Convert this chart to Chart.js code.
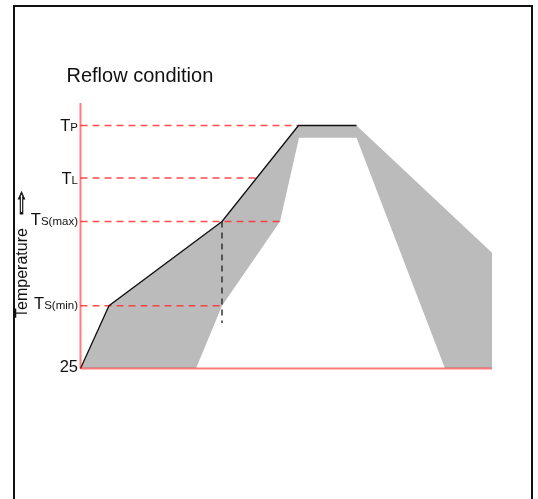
<!DOCTYPE html>
<html>
<head>
<meta charset="utf-8">
<script src="https://cdn.jsdelivr.net/npm/chart.js@4.4.1/dist/chart.umd.min.js"></script>
<style>
  html, body { margin: 0; padding: 0; background: #fff; overflow: hidden; }
  #wrap { position: relative; width: 538px; height: 499px; }
  #frame {
    position: absolute; left: 13px; top: 5px; width: 520px; height: 600px;
    border: 2px solid #111; box-sizing: border-box; pointer-events: none;
  }
</style>
</head>
<body>
<div id="wrap">
  <canvas id="chart"></canvas>
  <div id="frame"></div>
</div>
<script>
// time axis and temperature axis in relative units
const xMax = 411.5;
const yMax = 265.5;

// temperature levels: 25, Ts(min), Ts(max), TL, TP
const levelValues = [0, 62.8, 147, 190.5, 243];
const levelMain = ["25", "T", "T", "T", "T"];
const levelSub = ["", "S(min)", "S(max)", "L", "P"];
// where each dashed guide stops along the time axis
const guideEnds = [null, 141.5, 199.5, 176.2, 218];

// upper edge of the allowed band (the black profile is its first 5 points)
const outerTime = [0, 28.5, 141.5, 218, 276, 411.5, 411.5];
const outerTemp = [0, 62.8, 147, 243, 243, 115.8, 0];
// lower edge of the allowed band
const innerTime = [115.5, 141.5, 199.5, 218.5, 276, 364.5];
const innerTemp = [0, 62.8, 147, 230.8, 230.8, 0];

// soak end marker (black dashed drop)
const soakTime = 141.5;
const soakTemps = [147, 45.5];

const pts = (xs, ys) => xs.map((x, i) => ({ x: x, y: ys[i] }));
const FONT = "'Liberation Sans', Arial, sans-serif";

const guideSets = levelValues.map((v, i) => guideEnds[i] == null ? null : {
  data: [{ x: 0, y: v }, { x: guideEnds[i], y: v }],
  borderColor: "rgba(255,45,45,0.85)",
  borderWidth: 1.6,
  borderDash: [7, 5],
  clip: false,
}).filter(Boolean);

const textPlugin = {
  id: "texts",
  afterDraw(chart) {
    const ctx = chart.ctx;
    const y = chart.scales.y;
    ctx.save();
    ctx.fillStyle = "#111";
    ctx.textAlign = "left";
    ctx.textBaseline = "alphabetic";

    // title
    ctx.font = "20px " + FONT;
    ctx.fillText("Reflow condition", 66.5, 81.7);

    // level labels, right aligned against the axis
    const right = 78;
    levelValues.forEach((v, i) => {
      const py = y.getPixelForValue(v);
      const shift = (levelSub[i].includes("(") || levelMain[i] === "25") ? 3 : 5.7;
      ctx.font = "11.5px " + FONT;
      const subW = ctx.measureText(levelSub[i]).width;
      ctx.font = "16.5px " + FONT;
      const mainW = ctx.measureText(levelMain[i]).width;
      ctx.fillText(levelMain[i], right - subW - mainW, py + shift);
      ctx.font = "11.5px " + FONT;
      ctx.fillText(levelSub[i], right - subW, py + shift);
    });

    // rotated axis title
    ctx.save();
    ctx.translate(27, 273);
    ctx.rotate(-Math.PI / 2);
    ctx.font = "16px " + FONT;
    ctx.textAlign = "center";
    ctx.fillText("Temperature", 0, 0);
    ctx.restore();

    // outlined arrow pointing up
    ctx.save();
    ctx.font = "22px 'DejaVu Sans', sans-serif";
    const aw = ctx.measureText("\u21E7").width;
    ctx.translate(21.5, 206.5);
    ctx.scale(11 / aw, 1.35);
    ctx.textAlign = "center";
    ctx.textBaseline = "middle";
    ctx.strokeStyle = "#111";
    ctx.lineWidth = 0.8;
    ctx.fillText("\u21E7", 0, 0);
    ctx.strokeText("\u21E7", 0, 0);
    ctx.restore();

    ctx.restore();
  },
};

new Chart(document.getElementById("chart"), {
  type: "line",
  data: {
    datasets: [
      // axes
      { data: [{ x: 0, y: 0 }, { x: xMax, y: 0 }], borderColor: "rgba(255,0,0,0.5)", borderWidth: 2, clip: false },
      { data: [{ x: 0, y: 0 }, { x: 0, y: yMax }], borderColor: "rgba(255,0,0,0.5)", borderWidth: 2, clip: false },
      // black reflow profile
      { data: pts(outerTime.slice(0, 5), outerTemp.slice(0, 5)), borderColor: "#111", borderWidth: 1.3, clip: false },
      // soak end drop
      { data: pts([soakTime, soakTime], soakTemps), borderColor: "#333", borderWidth: 1.5, borderDash: [6, 5], clip: false },
      ...guideSets,
      // band: white under the lower edge, grey under the upper edge
      { data: pts(innerTime, innerTemp), borderWidth: 0, borderColor: "rgba(0,0,0,0)", backgroundColor: "#fff", fill: "origin" },
      { data: pts(outerTime, outerTemp), borderWidth: 0, borderColor: "rgba(0,0,0,0)", backgroundColor: "#bbbbbb", fill: "origin" },
    ],
  },
  options: {
    responsive: true,
    maintainAspectRatio: false,
    animation: false,
    events: [],
    layout: { padding: { left: 80.5, right: 46, top: 103, bottom: 130.5 } },
    elements: { point: { radius: 0 }, line: { tension: 0 } },
    scales: {
      x: { type: "linear", min: 0, max: xMax, display: false },
      y: { type: "linear", min: 0, max: yMax, display: false },
    },
    plugins: {
      legend: { display: false },
      tooltip: { enabled: false },
      title: { display: false },
    },
  },
  plugins: [textPlugin],
});
</script>
</body>
</html>
